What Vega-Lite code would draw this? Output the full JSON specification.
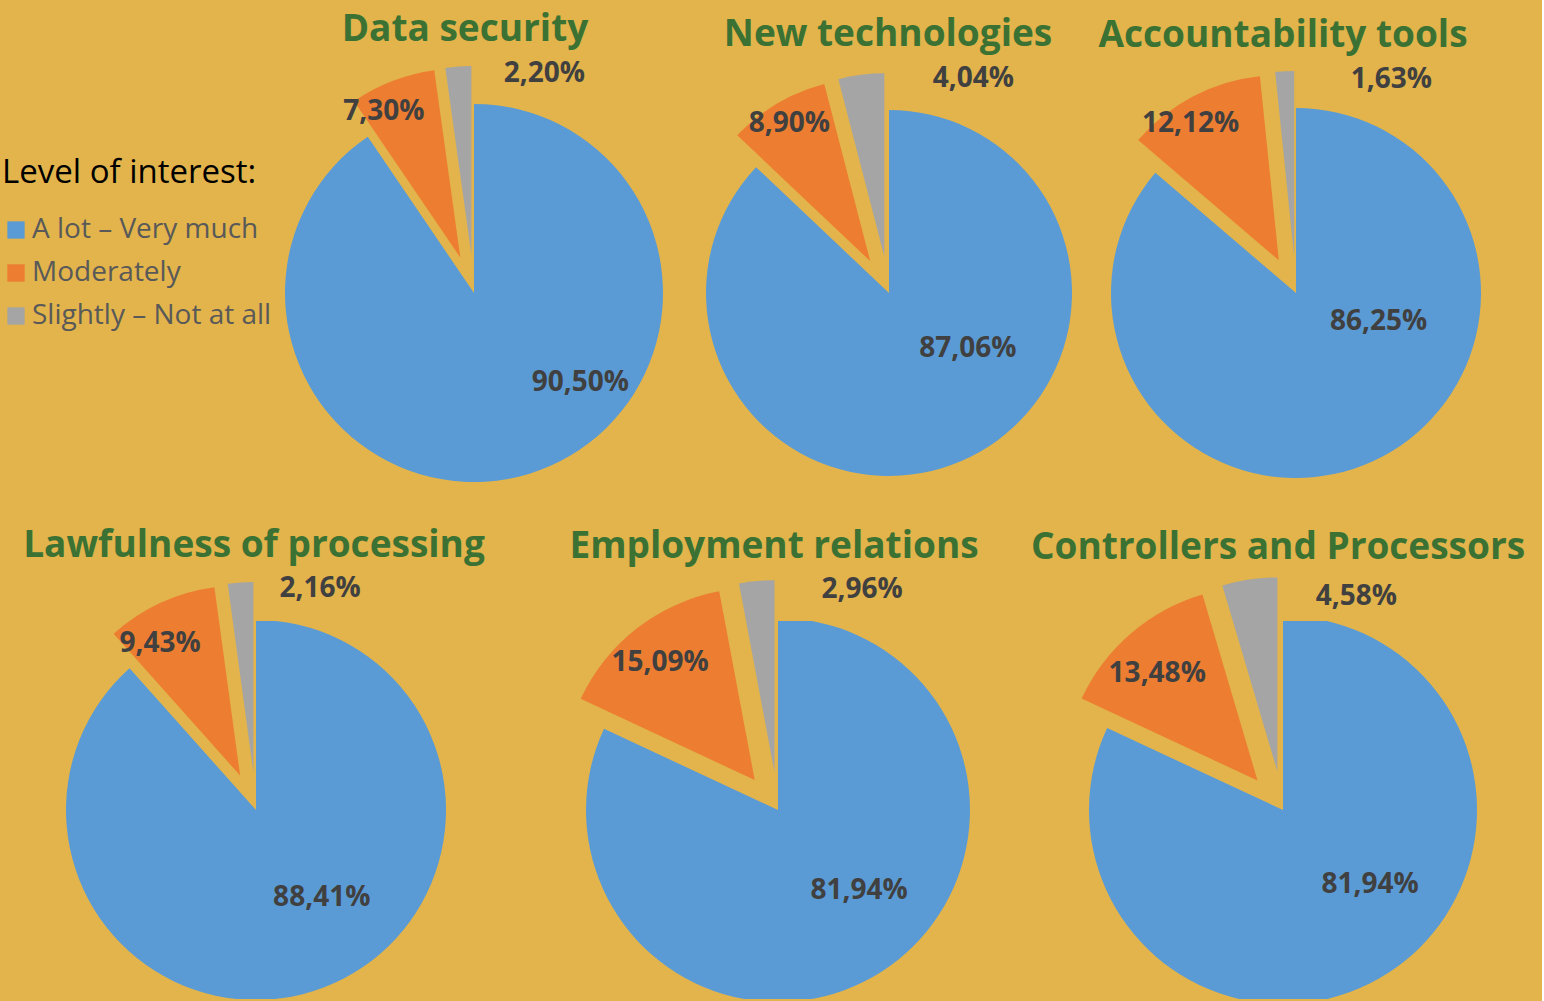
{
  "$schema": "https://vega.github.io/schema/vega-lite/v6.json",
  "background": "#E2B44B",
  "padding": {"left": 2, "top": 10, "right": 0, "bottom": 0},
  "datasets": {
    "pies": [
      {"topic": "Data security", "cat": "A lot – Very much", "v": 0.905},
      {"topic": "Data security", "cat": "Moderately", "v": 0.073},
      {"topic": "Data security", "cat": "Slightly – Not at all", "v": 0.022},
      {"topic": "New technologies", "cat": "A lot – Very much", "v": 0.8706},
      {"topic": "New technologies", "cat": "Moderately", "v": 0.089},
      {"topic": "New technologies", "cat": "Slightly – Not at all", "v": 0.0404},
      {"topic": "Accountability tools", "cat": "A lot – Very much", "v": 0.8625},
      {"topic": "Accountability tools", "cat": "Moderately", "v": 0.1212},
      {"topic": "Accountability tools", "cat": "Slightly – Not at all", "v": 0.0163},
      {"topic": "Lawfulness of processing", "cat": "A lot – Very much", "v": 0.8841},
      {"topic": "Lawfulness of processing", "cat": "Moderately", "v": 0.0943},
      {"topic": "Lawfulness of processing", "cat": "Slightly – Not at all", "v": 0.0216},
      {"topic": "Employment relations", "cat": "A lot – Very much", "v": 0.8194},
      {"topic": "Employment relations", "cat": "Moderately", "v": 0.1509},
      {"topic": "Employment relations", "cat": "Slightly – Not at all", "v": 0.0296},
      {"topic": "Controllers and Processors", "cat": "A lot – Very much", "v": 0.8194},
      {"topic": "Controllers and Processors", "cat": "Moderately", "v": 0.1348},
      {"topic": "Controllers and Processors", "cat": "Slightly – Not at all", "v": 0.0458}
    ]
  },
  "data": {"name": "pies"},
  "resolve": {"scale": {"color": "independent", "theta": "independent"}, "legend": {"color": "independent"}},
  "spacing": 19,
  "vconcat": [
    {
      "bounds": "flush",
      "spacing": 0,
      "resolve": {"scale": {"color": "independent", "theta": "independent"}, "legend": {"color": "independent"}},
      "hconcat": [
        {
          "width": 277, "height": 400,
          "transform": [{"filter": "datum.topic === 'Data security'"}],
          "mark": {"type": "square", "opacity": 0, "size": 0},
          "encoding": {
            "color": {"field": "cat", "type": "nominal",
              "scale": {"domain": ["A lot – Very much", "Moderately", "Slightly – Not at all"], "range": ["#5B9BD5", "#ED7D31", "#A5A5A5"]},
              "legend": {"title": "Level of interest:", "orient": "none", "legendX": 0, "legendY": 64,
                "titleFont": "Open Sans", "titleFontSize": 33, "titleFontWeight": "normal", "titleColor": "#000000",
                "labelFont": "Open Sans", "labelFontSize": 28, "labelColor": "#595959",
                "symbolType": "square", "symbolSize": 300, "symbolStrokeWidth": 0, "symbolOpacity": 1,
                "rowPadding": 15, "titlePadding": 26, "labelOffset": 2, "labelLimit": 400, "titleLimit": 400}}
          }
        },
        {
          "width": 390, "height": 400,
          "title": {"text": "Data security", "offset": 11, "dx": -9},
          "transform": [{"filter": "datum.topic === 'Data security'"}],
          "encoding": {
            "theta": {"field": "v", "type": "quantitative", "stack": true},
            "order": {"field": "cat", "type": "ordinal", "sort": "ascending"},
            "color": {"field": "cat", "type": "nominal",
              "scale": {"domain": ["A lot – Very much", "Moderately", "Slightly – Not at all"], "range": ["#5B9BD5", "#ED7D31", "#A5A5A5"]},
              "legend": null}
          },
          "layer": [
            {"mark": {"type": "arc", "outerRadius": 189}, "encoding": {"opacity": {"condition": {"test": "datum.cat === 'A lot – Very much'", "value": 1}, "value": 0}}},
            {"mark": {"type": "arc", "outerRadius": 189, "xOffset": -13.7, "yOffset": -35.5}, "encoding": {"opacity": {"condition": {"test": "datum.cat === 'Moderately'", "value": 1}, "value": 0}}},
            {"mark": {"type": "arc", "outerRadius": 189, "xOffset": -2.6, "yOffset": -37.9}, "encoding": {"opacity": {"condition": {"test": "datum.cat === 'Slightly – Not at all'", "value": 1}, "value": 0}}},
            {"mark": {"type": "text", "radius": 117, "dx": 72, "dy": -22}, "encoding": {"text": {"field": "v", "type": "quantitative", "format": ".2%"}, "color": {"value": "#404040"}, "opacity": {"condition": {"test": "datum.cat === 'A lot – Very much'", "value": 1}, "value": 0}}},
            {"mark": {"type": "text", "radius": 201, "dx": -18, "dy": 7}, "encoding": {"text": {"field": "v", "type": "quantitative", "format": ".2%"}, "color": {"value": "#404040"}, "opacity": {"condition": {"test": "datum.cat === 'Moderately'", "value": 1}, "value": 0}}},
            {"mark": {"type": "text", "radius": 213, "dx": 85, "dy": -7}, "encoding": {"text": {"field": "v", "type": "quantitative", "format": ".2%"}, "color": {"value": "#404040"}, "opacity": {"condition": {"test": "datum.cat === 'Slightly – Not at all'", "value": 1}, "value": 0}}}
          ]
        },
        {
          "width": 440, "height": 400,
          "title": {"text": "New technologies", "offset": 11, "dx": -1},
          "transform": [{"filter": "datum.topic === 'New technologies'"}],
          "encoding": {
            "theta": {"field": "v", "type": "quantitative", "stack": true},
            "order": {"field": "cat", "type": "ordinal", "sort": "ascending"},
            "color": {"field": "cat", "type": "nominal",
              "scale": {"domain": ["A lot – Very much", "Moderately", "Slightly – Not at all"], "range": ["#5B9BD5", "#ED7D31", "#A5A5A5"]},
              "legend": null}
          },
          "layer": [
            {"mark": {"type": "arc", "outerRadius": 183}, "encoding": {"opacity": {"condition": {"test": "datum.cat === 'A lot – Very much'", "value": 1}, "value": 0}}},
            {"mark": {"type": "arc", "outerRadius": 183, "xOffset": -18.8, "yOffset": -31.9}, "encoding": {"opacity": {"condition": {"test": "datum.cat === 'Moderately'", "value": 1}, "value": 0}}},
            {"mark": {"type": "arc", "outerRadius": 183, "xOffset": -4.7, "yOffset": -36.7}, "encoding": {"opacity": {"condition": {"test": "datum.cat === 'Slightly – Not at all'", "value": 1}, "value": 0}}},
            {"mark": {"type": "text", "radius": 83, "dx": 46, "dy": -20}, "encoding": {"text": {"field": "v", "type": "quantitative", "format": ".2%"}, "color": {"value": "#404040"}, "opacity": {"condition": {"test": "datum.cat === 'A lot – Very much'", "value": 1}, "value": 0}}},
            {"mark": {"type": "text", "radius": 196, "dx": 0, "dy": 0}, "encoding": {"text": {"field": "v", "type": "quantitative", "format": ".2%"}, "color": {"value": "#404040"}, "opacity": {"condition": {"test": "datum.cat === 'Moderately'", "value": 1}, "value": 0}}},
            {"mark": {"type": "text", "radius": 202, "dx": 110, "dy": -14}, "encoding": {"text": {"field": "v", "type": "quantitative", "format": ".2%"}, "color": {"value": "#404040"}, "opacity": {"condition": {"test": "datum.cat === 'Slightly – Not at all'", "value": 1}, "value": 0}}}
          ]
        },
        {
          "width": 374, "height": 400,
          "title": {"text": "Accountability tools", "offset": 11, "dx": -13},
          "transform": [{"filter": "datum.topic === 'Accountability tools'"}],
          "encoding": {
            "theta": {"field": "v", "type": "quantitative", "stack": true},
            "order": {"field": "cat", "type": "ordinal", "sort": "ascending"},
            "color": {"field": "cat", "type": "nominal",
              "scale": {"domain": ["A lot – Very much", "Moderately", "Slightly – Not at all"], "range": ["#5B9BD5", "#ED7D31", "#A5A5A5"]},
              "legend": null}
          },
          "layer": [
            {"mark": {"type": "arc", "outerRadius": 185}, "encoding": {"opacity": {"condition": {"test": "datum.cat === 'A lot – Very much'", "value": 1}, "value": 0}}},
            {"mark": {"type": "arc", "outerRadius": 185, "xOffset": -17.2, "yOffset": -32.8}, "encoding": {"opacity": {"condition": {"test": "datum.cat === 'Moderately'", "value": 1}, "value": 0}}},
            {"mark": {"type": "arc", "outerRadius": 185, "xOffset": -1.9, "yOffset": -37.0}, "encoding": {"opacity": {"condition": {"test": "datum.cat === 'Slightly – Not at all'", "value": 1}, "value": 0}}},
            {"mark": {"type": "text", "radius": 61, "dx": 57, "dy": -26}, "encoding": {"text": {"field": "v", "type": "quantitative", "format": ".2%"}, "color": {"value": "#404040"}, "opacity": {"condition": {"test": "datum.cat === 'A lot – Very much'", "value": 1}, "value": 0}}},
            {"mark": {"type": "text", "radius": 199, "dx": -13, "dy": 7}, "encoding": {"text": {"field": "v", "type": "quantitative", "format": ".2%"}, "color": {"value": "#404040"}, "opacity": {"condition": {"test": "datum.cat === 'Moderately'", "value": 1}, "value": 0}}},
            {"mark": {"type": "text", "radius": 207, "dx": 106, "dy": -6}, "encoding": {"text": {"field": "v", "type": "quantitative", "format": ".2%"}, "color": {"value": "#404040"}, "opacity": {"condition": {"test": "datum.cat === 'Slightly – Not at all'", "value": 1}, "value": 0}}}
          ]
        }
      ]
    },
    {
      "bounds": "flush",
      "spacing": 0,
      "resolve": {"scale": {"color": "independent", "theta": "independent"}, "legend": {"color": "independent"}},
      "hconcat": [
        {
          "width": 508, "height": 378,
          "title": {"text": "Lawfulness of processing", "offset": 10, "dx": -2},
          "transform": [{"filter": "datum.topic === 'Lawfulness of processing'"}],
          "encoding": {
            "theta": {"field": "v", "type": "quantitative", "stack": true},
            "order": {"field": "cat", "type": "ordinal", "sort": "ascending"},
            "color": {"field": "cat", "type": "nominal",
              "scale": {"domain": ["A lot – Very much", "Moderately", "Slightly – Not at all"], "range": ["#5B9BD5", "#ED7D31", "#A5A5A5"]},
              "legend": null}
          },
          "layer": [
            {"mark": {"type": "arc", "outerRadius": 190, "clip": true}, "encoding": {"opacity": {"condition": {"test": "datum.cat === 'A lot – Very much'", "value": 1}, "value": 0}}},
            {"mark": {"type": "arc", "outerRadius": 190, "xOffset": -15.9, "yOffset": -34.5}, "encoding": {"opacity": {"condition": {"test": "datum.cat === 'Moderately'", "value": 1}, "value": 0}}},
            {"mark": {"type": "arc", "outerRadius": 190, "xOffset": -2.6, "yOffset": -37.9}, "encoding": {"opacity": {"condition": {"test": "datum.cat === 'Slightly – Not at all'", "value": 1}, "value": 0}}},
            {"mark": {"type": "text", "radius": 106, "dx": 28, "dy": -11}, "encoding": {"text": {"field": "v", "type": "quantitative", "format": ".2%"}, "color": {"value": "#404040"}, "opacity": {"condition": {"test": "datum.cat === 'A lot – Very much'", "value": 1}, "value": 0}}},
            {"mark": {"type": "text", "radius": 191, "dx": -16, "dy": 7}, "encoding": {"text": {"field": "v", "type": "quantitative", "format": ".2%"}, "color": {"value": "#404040"}, "opacity": {"condition": {"test": "datum.cat === 'Moderately'", "value": 1}, "value": 0}}},
            {"mark": {"type": "text", "radius": 220, "dx": 79, "dy": -2}, "encoding": {"text": {"field": "v", "type": "quantitative", "format": ".2%"}, "color": {"value": "#404040"}, "opacity": {"condition": {"test": "datum.cat === 'Slightly – Not at all'", "value": 1}, "value": 0}}}
          ]
        },
        {
          "width": 536, "height": 378,
          "title": {"text": "Employment relations", "offset": 10, "dx": -4},
          "transform": [{"filter": "datum.topic === 'Employment relations'"}],
          "encoding": {
            "theta": {"field": "v", "type": "quantitative", "stack": true},
            "order": {"field": "cat", "type": "ordinal", "sort": "ascending"},
            "color": {"field": "cat", "type": "nominal",
              "scale": {"domain": ["A lot – Very much", "Moderately", "Slightly – Not at all"], "range": ["#5B9BD5", "#ED7D31", "#A5A5A5"]},
              "legend": null}
          },
          "layer": [
            {"mark": {"type": "arc", "outerRadius": 192, "clip": true}, "encoding": {"opacity": {"condition": {"test": "datum.cat === 'A lot – Very much'", "value": 1}, "value": 0}}},
            {"mark": {"type": "arc", "outerRadius": 192, "xOffset": -23.3, "yOffset": -30.0}, "encoding": {"opacity": {"condition": {"test": "datum.cat === 'Moderately'", "value": 1}, "value": 0}}},
            {"mark": {"type": "arc", "outerRadius": 192, "xOffset": -3.5, "yOffset": -37.8}, "encoding": {"opacity": {"condition": {"test": "datum.cat === 'Slightly – Not at all'", "value": 1}, "value": 0}}},
            {"mark": {"type": "text", "radius": 112, "dx": 21, "dy": -13}, "encoding": {"text": {"field": "v", "type": "quantitative", "format": ".2%"}, "color": {"value": "#404040"}, "opacity": {"condition": {"test": "datum.cat === 'A lot – Very much'", "value": 1}, "value": 0}}},
            {"mark": {"type": "text", "radius": 189, "dx": -2, "dy": 2}, "encoding": {"text": {"field": "v", "type": "quantitative", "format": ".2%"}, "color": {"value": "#404040"}, "opacity": {"condition": {"test": "datum.cat === 'Moderately'", "value": 1}, "value": 0}}},
            {"mark": {"type": "text", "radius": 213, "dx": 104, "dy": -8}, "encoding": {"text": {"field": "v", "type": "quantitative", "format": ".2%"}, "color": {"value": "#404040"}, "opacity": {"condition": {"test": "datum.cat === 'Slightly – Not at all'", "value": 1}, "value": 0}}}
          ]
        },
        {
          "width": 474, "height": 378,
          "title": {"text": "Controllers and Processors", "offset": 10, "dx": -5},
          "transform": [{"filter": "datum.topic === 'Controllers and Processors'"}],
          "encoding": {
            "theta": {"field": "v", "type": "quantitative", "stack": true},
            "order": {"field": "cat", "type": "ordinal", "sort": "ascending"},
            "color": {"field": "cat", "type": "nominal",
              "scale": {"domain": ["A lot – Very much", "Moderately", "Slightly – Not at all"], "range": ["#5B9BD5", "#ED7D31", "#A5A5A5"]},
              "legend": null}
          },
          "layer": [
            {"mark": {"type": "arc", "outerRadius": 194, "clip": true}, "encoding": {"opacity": {"condition": {"test": "datum.cat === 'A lot – Very much'", "value": 1}, "value": 0}}},
            {"mark": {"type": "arc", "outerRadius": 194, "xOffset": -25.5, "yOffset": -29.5}, "encoding": {"opacity": {"condition": {"test": "datum.cat === 'Moderately'", "value": 1}, "value": 0}}},
            {"mark": {"type": "arc", "outerRadius": 194, "xOffset": -5.6, "yOffset": -38.6}, "encoding": {"opacity": {"condition": {"test": "datum.cat === 'Slightly – Not at all'", "value": 1}, "value": 0}}},
            {"mark": {"type": "text", "radius": 110, "dx": 28, "dy": -18}, "encoding": {"text": {"field": "v", "type": "quantitative", "format": ".2%"}, "color": {"value": "#404040"}, "opacity": {"condition": {"test": "datum.cat === 'A lot – Very much'", "value": 1}, "value": 0}}},
            {"mark": {"type": "text", "radius": 185, "dx": -5, "dy": 4}, "encoding": {"text": {"field": "v", "type": "quantitative", "format": ".2%"}, "color": {"value": "#404040"}, "opacity": {"condition": {"test": "datum.cat === 'Moderately'", "value": 1}, "value": 0}}},
            {"mark": {"type": "text", "radius": 200, "dx": 102, "dy": -15}, "encoding": {"text": {"field": "v", "type": "quantitative", "format": ".2%"}, "color": {"value": "#404040"}, "opacity": {"condition": {"test": "datum.cat === 'Slightly – Not at all'", "value": 1}, "value": 0}}}
          ]
        }
      ]
    }
  ],
  "config": {
    "locale": {"number": {"decimal": ",", "thousands": ".", "grouping": [3], "currency": ["", " €"]}},
    "view": {"stroke": null},
    "title": {"font": "Open Sans", "fontSize": 37, "fontWeight": "bold", "color": "#3B7233", "anchor": "middle"},
    "text": {"font": "Open Sans", "fontWeight": "bold", "fontSize": 28}
  }
}
